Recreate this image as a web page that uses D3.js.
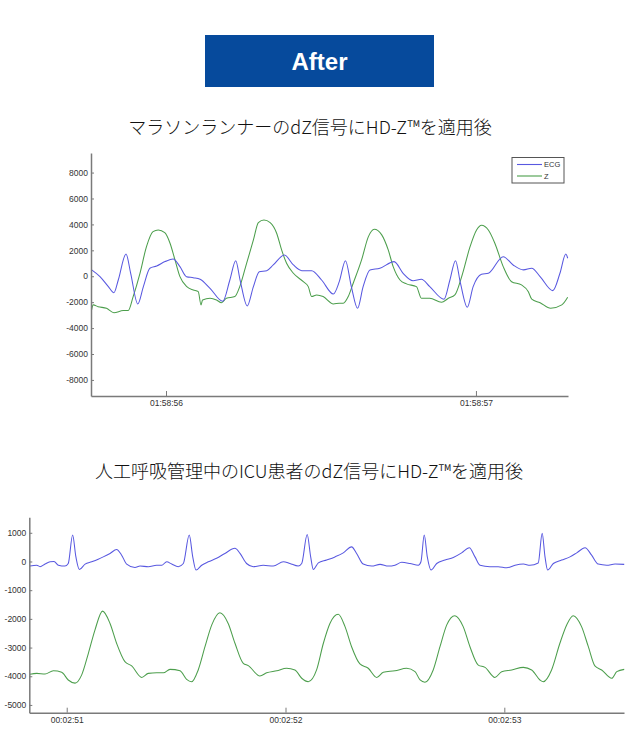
<!DOCTYPE html>
<html><head><meta charset="utf-8">
<script src="https://cdn.jsdelivr.net/npm/d3@7/dist/d3.min.js"></script>
<style>
html,body{margin:0;padding:0;background:#fff;}
svg{display:block;}
</style></head>
<body>
<svg id="c" width="638" height="753"></svg>
<script>
// ---------- DATA ----------
const bannerText = "After";
const runnerTitle = "マラソンランナーのdZ信号にHD-Z™を適用後";
const icuTitle = "人工呼吸管理中のICU患者のdZ信号にHD-Z™を適用後";
const legendLabels = ["ECG", "Z"];

// Runner chart (time in seconds past 01:58:00)
const runnerEcgT = [55.760,55.787,55.814,55.832,55.846,55.871,55.886,55.909,55.927,55.948,55.970,55.997,56.023,56.045,56.066,56.088,56.110,56.142,56.183,56.206,56.225,56.239,56.262,56.282,56.301,56.325,56.346,56.382,56.411,56.438,56.470,56.502,56.540,56.559,56.579,56.598,56.618,56.636,56.658,56.690,56.736,56.765,56.797,56.824,56.851,56.897,56.916,56.934,56.950,56.972,56.991,57.018,57.040,57.088,57.120,57.153,57.180,57.207,57.248,57.271,57.290,57.296];
const runnerEcgV = [490,-30,-800,-1270,-290,1720,230,-2140,-800,620,790,1130,1330,740,-30,-110,-230,-930,-1930,-290,1200,-290,-2290,-800,350,430,870,1640,870,430,430,-290,-1370,-420,1200,-800,-2470,-800,490,620,1130,230,-340,-230,-800,-1770,-290,1200,-540,-2390,-800,150,230,1510,870,490,620,-30,-1110,230,1720,1390];
const runnerZT = [55.760,55.765,55.781,55.808,55.832,55.862,55.878,55.894,55.916,55.937,55.958,55.975,55.996,56.013,56.029,56.045,56.067,56.088,56.104,56.113,56.118,56.142,56.163,56.179,56.195,56.222,56.238,56.260,56.282,56.298,56.316,56.336,56.357,56.373,56.389,56.411,56.443,56.459,56.470,56.486,56.507,56.540,56.559,56.572,56.588,56.604,56.631,56.653,56.672,56.696,56.717,56.733,56.755,56.776,56.808,56.824,56.851,56.889,56.911,56.932,56.954,56.981,57.002,57.018,57.040,57.061,57.088,57.115,57.147,57.169,57.180,57.207,57.241,57.277,57.296];
const runnerZV = [-2600,-2210,-2350,-2470,-2810,-2650,-2650,-1570,230,2280,3440,3570,3360,2550,1260,-30,-800,-1060,-1190,-2210,-1830,-1700,-1830,-2040,-1700,-1570,-800,1000,2800,4140,4340,4140,3320,2030,1000,230,-420,-800,-1570,-1440,-1570,-2140,-2080,-2080,-1570,-540,1260,3060,3630,3190,2030,740,-290,-590,-800,-1700,-1700,-2010,-1700,-1440,-30,2280,3570,3940,3570,2550,740,-420,-670,-1190,-1770,-2040,-2470,-2210,-1620];
const runnerYTicks = [8000,6000,4000,2000,0,-2000,-4000,-6000,-8000];
const runnerXTicks = [56, 57];
const runnerXLabels = ["01:58:56", "01:58:57"];

// ICU chart (time in seconds past 00:02:00)
const icuEcgT = [50.832,50.863,50.878,50.901,50.924,50.942,50.962,50.992,51.007,51.027,51.042,51.058,51.084,51.114,51.144,51.167,51.198,51.228,51.251,51.274,51.312,51.335,51.373,51.411,51.434,51.457,51.480,51.510,51.533,51.560,51.576,51.591,51.617,51.647,51.685,51.723,51.769,51.792,51.822,51.853,51.898,51.944,51.990,52.020,52.058,52.074,52.099,52.115,52.127,52.150,52.188,52.226,52.264,52.302,52.325,52.355,52.394,52.432,52.470,52.500,52.531,52.569,52.607,52.619,52.634,52.648,52.665,52.691,52.729,52.767,52.805,52.840,52.866,52.889,52.934,52.972,53.011,53.049,53.087,53.117,53.155,53.173,53.186,53.198,53.224,53.262,53.300,53.331,53.369,53.399,53.429,53.468,53.506,53.548];
const icuEcgV = [-160,-130,-180,-90,-10,0,-130,-160,-70,920,160,-280,-90,-10,80,160,280,420,220,-90,-210,-160,-180,-130,-130,-10,-90,-180,-70,920,160,-300,-130,-10,110,280,460,280,-70,-180,-130,-160,-10,-70,-160,-70,940,160,-280,-50,50,160,300,510,280,-90,-160,-100,-160,-130,-30,-70,-130,-10,920,160,-300,-70,50,140,300,480,160,-130,-180,-180,-220,-130,-90,-130,-50,980,160,-300,-70,50,160,300,480,220,-90,-130,-90,-100];
const icuZT = [50.832,50.863,50.901,50.939,50.977,51.007,51.038,51.068,51.099,51.129,51.164,51.198,51.228,51.266,51.297,51.343,51.373,51.411,51.442,51.472,51.518,51.548,51.571,51.601,51.632,51.663,51.700,51.738,51.769,51.807,51.830,51.883,51.914,51.960,52.005,52.043,52.074,52.104,52.142,52.173,52.203,52.241,52.272,52.302,52.340,52.378,52.417,52.447,52.500,52.554,52.592,52.615,52.637,52.675,52.706,52.737,52.774,52.812,52.843,52.881,52.912,52.957,52.988,53.034,53.087,53.125,53.163,53.178,53.216,53.254,53.285,53.315,53.353,53.384,53.414,53.445,53.491,53.514,53.548];
const icuZV = [-3930,-3900,-3920,-3810,-3860,-4130,-4240,-3960,-3200,-2390,-1730,-2160,-2850,-3490,-3640,-4040,-3900,-3880,-3880,-3760,-3810,-4110,-4190,-3780,-2970,-2210,-1790,-2160,-2850,-3550,-3630,-3990,-3880,-3810,-3720,-3780,-4070,-4190,-3780,-2850,-2160,-1840,-2270,-2970,-3570,-3720,-4040,-3860,-3810,-3720,-3840,-4130,-4210,-3780,-2970,-2210,-1890,-2270,-2970,-3610,-3690,-4040,-3840,-3780,-3690,-3780,-4130,-4190,-3780,-2850,-2210,-1890,-2270,-2970,-3640,-3780,-4070,-3840,-3760];
const icuYTicks = [1000,0,-1000,-2000,-3000,-4000,-5000];
const icuXTicks = [51, 52, 53];
const icuXLabels = ["00:02:51", "00:02:52", "00:02:53"];

// ---------- DRAW ----------
const svg = d3.select("#c");
const ECG_COLOR = "#5858e0";
const Z_COLOR = "#4c9e4c";
const AXIS_COLOR = "#7a7a7a";
const TXT = "#333";
const CJK = "'Noto Sans CJK JP', 'Noto Sans', sans-serif";
const LAT = "'Liberation Sans', Arial, sans-serif";

// Banner
svg.append("rect").attr("x",205).attr("y",35).attr("width",229).attr("height",52).attr("fill","#064a9c");
svg.append("text").attr("x",319.5).attr("y",70).attr("text-anchor","middle")
  .attr("fill","#fff").attr("font-family",LAT).attr("font-weight","bold").attr("font-size",24)
  .text(bannerText);

// Titles
svg.append("text").attr("x",310).attr("y",134).attr("text-anchor","middle")
  .attr("fill","#111").attr("font-family",CJK).attr("font-weight",300).attr("font-size",18).text(runnerTitle);
svg.append("text").attr("x",309).attr("y",478).attr("text-anchor","middle")
  .attr("fill","#111").attr("font-family",CJK).attr("font-weight",300).attr("font-size",18).text(icuTitle);

function drawChart(cfg){
  const x = d3.scaleLinear().domain(cfg.xDomain).range([cfg.left, cfg.right]);
  const y = d3.scaleLinear().domain(cfg.yDomain).range([cfg.bottom, cfg.top]);
  const g = svg.append("g");

  const line = d3.line().x(d=>x(d[0])).y(d=>y(d[1])).curve(d3.curveMonotoneX);
  cfg.series.forEach(s=>{
    const pts = s.t.map((t,i)=>[t, s.v[i]]);
    g.append("path").datum(pts).attr("d",line).attr("fill","none")
      .attr("stroke",s.color).attr("stroke-width",1.05).attr("stroke-linejoin","round");
  });

  const yAxis = d3.axisLeft(y).tickValues(cfg.yTicks).tickFormat(d=>String(d))
    .tickSizeInner(-3).tickSizeOuter(0).tickPadding(3);
  const ya = g.append("g").attr("transform",`translate(${cfg.left},0)`).call(yAxis);
  const labels = cfg.xLabels;
  const xAxis = d3.axisBottom(x).tickValues(cfg.xTicks).tickFormat((d,i)=>labels[i])
    .tickSizeInner(-5).tickSizeOuter(0).tickPadding(4);
  const xa = g.append("g").attr("transform",`translate(0,${cfg.bottom})`).call(xAxis);
  [ya, xa].forEach(a=>{
    a.select(".domain").attr("stroke",AXIS_COLOR).attr("stroke-width",1.5);
    a.selectAll(".tick line").attr("stroke",AXIS_COLOR).attr("stroke-width",1);
    a.selectAll(".tick text").attr("fill",TXT).attr("font-family",LAT).attr("font-size",8.5);
  });
  return {x,y,g};
}

drawChart({
  left:91, right:568, top:153, bottom:396,
  xDomain:[55.758, 57.297], yDomain:[-9240, 9510],
  yTicks:runnerYTicks, xTicks:runnerXTicks, xLabels:runnerXLabels,
  series:[{t:runnerZT, v:runnerZV, color:Z_COLOR},{t:runnerEcgT, v:runnerEcgV, color:ECG_COLOR}]
});

drawChart({
  left:29.3, right:624, top:517.3, bottom:712.7,
  xDomain:[50.829, 53.547], yDomain:[-5270, 1540],
  yTicks:icuYTicks, xTicks:icuXTicks, xLabels:icuXLabels,
  series:[{t:icuZT, v:icuZV, color:Z_COLOR},{t:icuEcgT, v:icuEcgV, color:ECG_COLOR}]
});

// Legend (runner chart)
const lg = svg.append("g").attr("transform","translate(512,157.5)");
lg.append("rect").attr("width",52).attr("height",25.5).attr("fill","#fff").attr("stroke","#555").attr("stroke-width",1);
[ECG_COLOR, Z_COLOR].forEach((c,i)=>{
  const yy = 7 + i*11.5;
  lg.append("line").attr("x1",5).attr("x2",30).attr("y1",yy).attr("y2",yy).attr("stroke",c).attr("stroke-width",1.1);
  lg.append("text").attr("x",32).attr("y",yy+2.7).attr("font-family",LAT).attr("font-size",7.5).attr("fill",TXT).text(legendLabels[i]);
});
</script>
</body></html>
